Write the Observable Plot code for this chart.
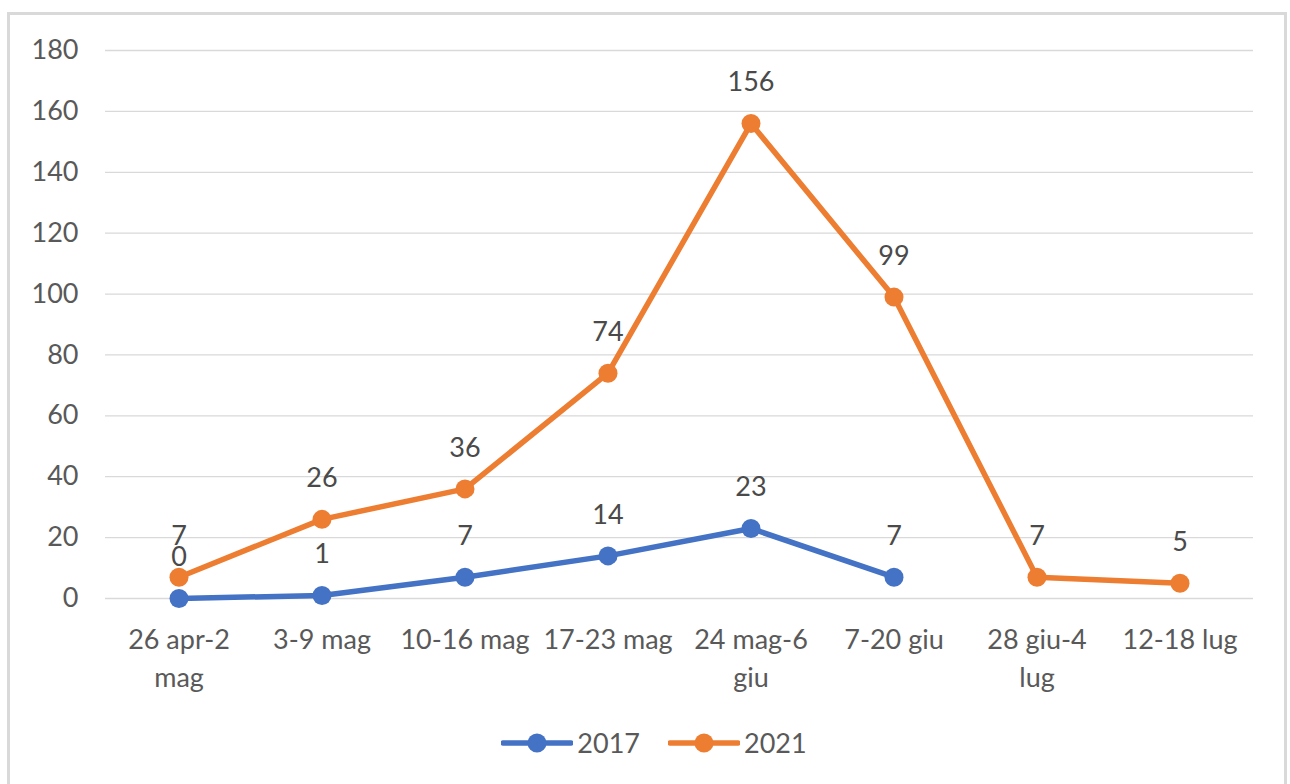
<!DOCTYPE html>
<html><head><meta charset="utf-8">
<script src="https://cdn.jsdelivr.net/npm/d3@7"></script>
<script src="https://cdn.jsdelivr.net/npm/@observablehq/plot@0.6"></script>
<style>
body{margin:0;background:#fff;font-family:Lato,"Noto Sans",sans-serif;}
#frame{position:absolute;left:7px;top:12px;width:1280px;height:790px;border:3px solid #d9d9d9;box-sizing:border-box;}
#chart{position:absolute;left:0;top:0;}
#legend{position:absolute;left:0;top:726px;width:1290px;padding-left:18px;box-sizing:border-box;display:flex;justify-content:center;gap:28px;font-size:27px;color:#595959;line-height:34px;}
.item{display:flex;align-items:center;gap:4px;}
</style></head>
<body>
<div id="frame"></div>
<div id="chart"></div>
<div id="legend"></div>
<script>
const categories = ["26 apr-2 mag","3-9 mag","10-16 mag","17-23 mag","24 mag-6 giu","7-20 giu","28 giu-4 lug","12-18 lug"];
const tickLabels = ["26 apr-2\nmag","3-9 mag","10-16 mag","17-23 mag","24 mag-6\ngiu","7-20 giu","28 giu-4\nlug","12-18 lug"];
const series = ["2017","2021"];
const values2017 = [0,1,7,14,23,7,null,null];
const values2021 = [7,26,36,74,156,99,7,5];
const colors = ["#4472C4","#ED7D31"];
const yTicks = [0,20,40,60,80,100,120,140,160,180];

const rows = [];
[values2017, values2021].forEach((vals, si) => {
  vals.forEach((v, i) => rows.push({series: series[si], cat: categories[i], value: v}));
});
const valid = rows.filter(d => d.value != null);
const labelOf = new Map(categories.map((c, i) => [c, tickLabels[i]]));

const chart = Plot.plot({
  width: 1290,
  height: 700,
  marginLeft: 105,
  marginRight: 37,
  marginTop: 50,
  marginBottom: 102,
  style: {fontFamily: "Lato, 'Noto Sans', sans-serif", fontSize: "27px", color: "#595959", background: "transparent"},
  x: {type: "band", domain: categories, padding: 0, label: null},
  y: {domain: [0, 180], label: null},
  color: {domain: series, range: colors},
  marks: [
    Plot.gridY(yTicks, {stroke: "#d9d9d9", strokeOpacity: 1, strokeWidth: 1.3}),
    Plot.axisY(yTicks, {tickSize: 0, tickPadding: 27, fontSize: 27, fill: "#595959", label: null}),
    Plot.axisX({tickSize: 0, tickPadding: 24, fontSize: 27, fill: "#595959", tickFormat: d => labelOf.get(d), lineHeight: 1.4, lineAnchor: "top", label: null}),
    Plot.line(rows, {x: "cat", y: "value", z: "series", stroke: "series", strokeWidth: 5.5, defined: d => d.value != null}),
    Plot.dot(valid, {x: "cat", y: "value", fill: "series", r: 9.5}),
    Plot.text(valid, {x: "cat", y: "value", text: d => String(d.value), dy: -41, fontSize: 27, fill: "#4a4a4a"})
  ]
});
document.getElementById("chart").appendChild(chart);

const legend = document.getElementById("legend");
series.forEach((s, i) => {
  const item = document.createElement("div");
  item.className = "item";
  item.innerHTML = `<svg width="72" height="24"><line x1="2" x2="70" y1="12" y2="12" stroke="${colors[i]}" stroke-width="5.5" stroke-linecap="round"/><circle cx="36" cy="12" r="9.5" fill="${colors[i]}"/></svg><span>${s}</span>`;
  legend.appendChild(item);
});
</script>
</body></html>
